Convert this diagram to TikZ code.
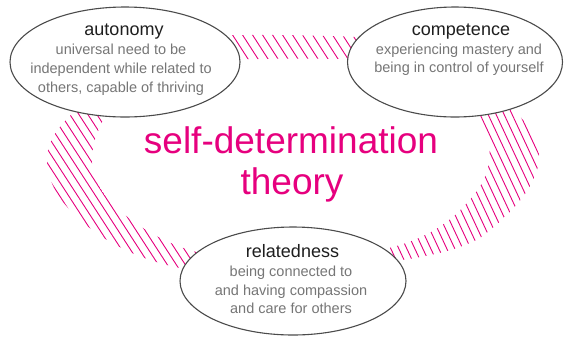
\documentclass[tikz,border=0pt]{standalone}
\usepackage{fontspec}
\setmainfont{Liberation Sans}
\usetikzlibrary{shapes.geometric}
\definecolor{sdtpink}{RGB}{230,0,126}
\definecolor{captiongray}{RGB}{118,118,118}
\definecolor{headgray}{RGB}{30,30,30}
\definecolor{rimgray}{RGB}{75,75,75}
\begin{document}
\begin{tikzpicture}[x=1pt,y=-1pt,
  need/.style={ellipse, draw=rimgray, line width=1.1pt, fill=white, inner sep=0pt},
  needhead/.style={anchor=base, text=headgray, font=\fontsize{18}{20}\selectfont},
  needtext/.style={anchor=base, text=captiongray, font=\fontsize{14.5}{18}\selectfont},
  hatch/.style={draw=sdtpink, line width=0.9pt},
  bigtitle/.style={anchor=base, text=sdtpink, font=\fontsize{37}{42}\selectfont}]
\useasboundingbox (0,0) rectangle (564,338);

% hatched loop joining the three needs: top stretch
\begin{scope}
  \clip (200,36) .. controls (260,34) and (320,35) .. (380,38)
        -- (380,60) .. controls (320,58) and (260,58) .. (200,61) -- cycle;
  \foreach \k in {150,160,...,400} \draw[hatch] (\k,0) -- ++(40,62);
\end{scope}

% right stretch, from competence down to relatedness
\begin{scope}
  \clip (505,100) .. controls (522,118) and (538,135) .. (539,155)
        .. controls (540,185) and (510,215) .. (480,238)
        .. controls (455,252) and (420,258) .. (380,263)
        -- (380,250) .. controls (415,243) and (445,228) .. (465,205)
        .. controls (485,185) and (492,165) .. (489,145)
        .. controls (486,125) and (478,110) .. (470,100) -- cycle;
  \foreach \k in {280,288,...,560} \draw[hatch] (\k,80) -- ++(100,214);
\end{scope}

% left stretch, from autonomy down to relatedness
\begin{scope}
  \clip (90,100) .. controls (68,115) and (48,135) .. (47,158)
        .. controls (46,185) and (65,210) .. (95,232)
        .. controls (120,250) and (150,262) .. (180,268)
        -- (210,270) -- (210,255)
        .. controls (180,250) and (150,235) .. (125,215)
        .. controls (105,200) and (92,180) .. (92,160)
        .. controls (92,140) and (100,120) .. (120,100) -- cycle;
  \foreach \k in {-90,-81,...,220} \draw[hatch] (\k,90) -- ++(120,185);
\end{scope}

% the three needs
\node[need, minimum width=230pt, minimum height=110pt] (autonomy) at (125,62) {};
\node[need, minimum width=215pt, minimum height=110pt] (competence) at (455,62) {};
\node[need, minimum width=226pt, minimum height=108pt] (relatedness) at (293,281) {};

\node[needhead] (autHead) at (124,35) {autonomy};
\node[needtext] (autA) at (121,54) {universal need to be};
\node[needtext] (autB) at (121,73) {independent while related to};
\node[needtext] (autC) at (121,92) {others, capable of thriving};

\node[needhead] (comHead) at (461,35) {competence};
\node[needtext] (comA) at (459,54) {experiencing mastery and};
\node[needtext] (comB) at (459,72) {being in control of yourself};

\node[needhead] (relHead) at (292.5,257) {relatedness};
\node[needtext] (relA) at (291,276) {being connected to};
\node[needtext] (relB) at (291,295) {and having compassion};
\node[needtext] (relC) at (291,313) {and care for others};

% central title
\node[bigtitle] (titleA) at (291,153) {self-determination};
\node[bigtitle] (titleB) at (292,194) {theory};
\end{tikzpicture}
\end{document}
